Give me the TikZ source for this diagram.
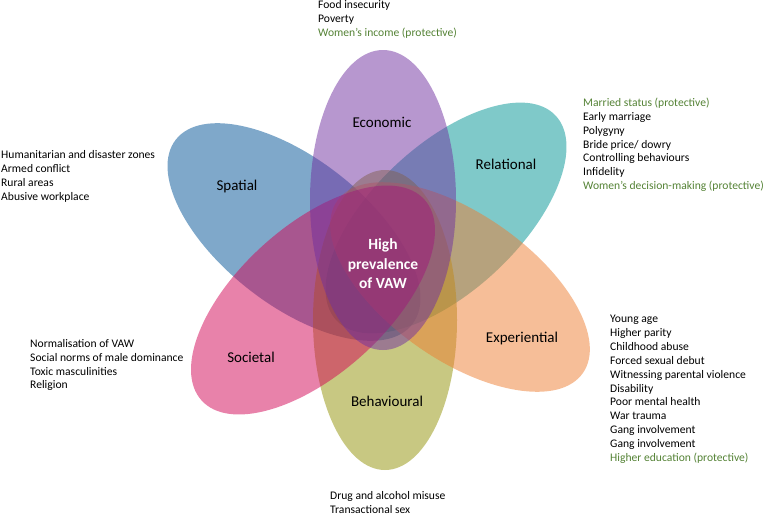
\documentclass[tikz,border=0pt]{standalone}
\usepackage{fontspec}
\setmainfont{Carlito}
\definecolor{ecoC}{RGB}{112,48,160}
\definecolor{relC}{RGB}{0,148,148}
\definecolor{expC}{RGB}{237,125,49}
\definecolor{behC}{RGB}{145,145,5}
\definecolor{socC}{RGB}{210,5,85}
\definecolor{spaC}{RGB}{0,82,150}
\definecolor{protC}{RGB}{84,130,53}
\begin{document}
\begin{tikzpicture}[x=1pt,y=-1pt,
  petal/.style={fill=#1, fill opacity=0.5},
  lbl/.style={font=\fontsize{15}{18}\selectfont, text=black, anchor=base, inner sep=0pt},
  item/.style={font=\fontsize{11.6}{14}\selectfont, anchor=base west, inner sep=0pt, text=black},
  prot/.style={item, text=protC}]
\useasboundingbox (0,0) rectangle (766,515);
% petals (bottom to top)
\fill[petal=relC, rotate around={43:(446,218)}] (446,218) ellipse [x radius=150pt, y radius=73pt];
\fill[petal=spaC, rotate around={-38:(294,232)}] (294,232) ellipse [x radius=150pt, y radius=73pt];
\fill[petal=behC] (385,320) ellipse [x radius=72pt, y radius=150pt];
\fill[petal=expC, rotate around={-35:(460,287)}] (460,287) ellipse [x radius=150pt, y radius=73pt];
\fill[petal=socC, rotate around={42:(313,300)}] (313,300) ellipse [x radius=150pt, y radius=74pt];
\fill[petal=ecoC] (383,200) ellipse [x radius=73pt, y radius=150pt];
% petal labels
\node[lbl] (ecoL) at (382,127) {Economic};
\node[lbl] (relL) at (506,169) {Relational};
\node[lbl] (expL) at (522,342) {Experiential};
\node[lbl] (behL) at (387,406) {Behavioural};
\node[lbl] (socL) at (251,362) {Societal};
\node[lbl] (spaL) at (237,190) {Spatial};
\node[font=\bfseries\fontsize{15.5}{19.5}\selectfont, text=white, align=center, inner sep=0pt] (core) at (383,264) {High\\prevalence\\of VAW};
% economic list
\node[item] (eco1) at (318,8.5) {Food insecurity};
\node[item] (eco2) at (318,22.5) {Poverty};
\node[prot] (eco3) at (318,36.5) {Women’s income (protective)};
% relational list
\node[prot] (rel1) at (583,106) {Married status (protective)};
\node[item] (rel2) at (583,120) {Early marriage};
\node[item] (rel3) at (583,134) {Polygyny};
\node[item] (rel4) at (583,148) {Bride price/ dowry};
\node[item] (rel5) at (583,161.5) {Controlling behaviours};
\node[item] (rel6) at (583,175.5) {Infidelity};
\node[prot] (rel7) at (583,189.5) {Women’s decision-making (protective)};
% spatial list
\node[item] (spa1) at (1,158.5) {Humanitarian and disaster zones};
\node[item] (spa2) at (1,172.5) {Armed conflict};
\node[item] (spa3) at (1,186.5) {Rural areas};
\node[item] (spa4) at (1,200.5) {Abusive workplace};
% societal list
\node[item] (soc1) at (30,347.5) {Normalisation of VAW};
\node[item] (soc2) at (30,361) {Social norms of male dominance};
\node[item] (soc3) at (30,375) {Toxic masculinities};
\node[item] (soc4) at (30,388.5) {Religion};
% experiential list
\node[item] (exp1) at (610,322.5) {Young age};
\node[item] (exp2) at (610,336.4) {Higher parity};
\node[item] (exp3) at (610,350.3) {Childhood abuse};
\node[item] (exp4) at (610,364.2) {Forced sexual debut};
\node[item] (exp5) at (610,378.1) {Witnessing parental violence};
\node[item] (exp6) at (610,392) {Disability};
\node[item] (exp7) at (610,405.9) {Poor mental health};
\node[item] (exp8) at (610,419.8) {War trauma};
\node[item] (exp9) at (610,433.7) {Gang involvement};
\node[item] (exp10) at (610,447.6) {Gang involvement};
\node[prot] (exp11) at (610,461.5) {Higher education (protective)};
% behavioural list
\node[item] (beh1) at (330,499.5) {Drug and alcohol misuse};
\node[item] (beh2) at (330,513) {Transactional sex};
\end{tikzpicture}
\end{document}
